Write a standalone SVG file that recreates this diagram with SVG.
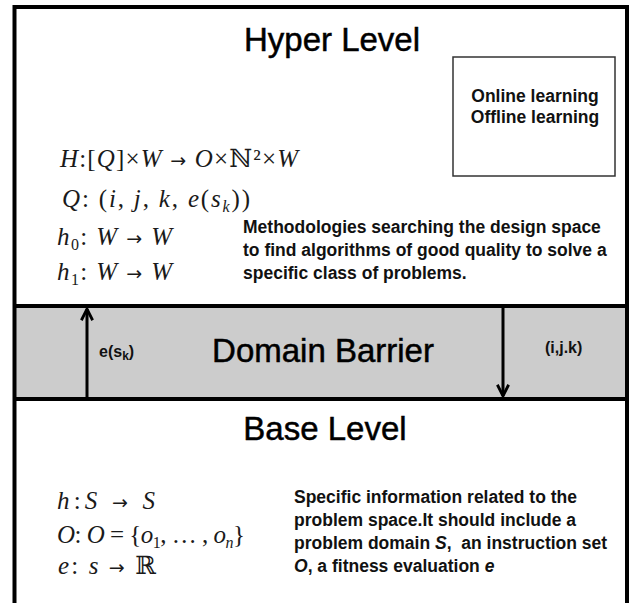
<svg xmlns="http://www.w3.org/2000/svg" width="638" height="603" viewBox="0 0 638 603">
<style>
.title{font-family:"Liberation Sans",Arial,sans-serif;font-size:33px;fill:#000;stroke:#000;stroke-width:0.5;text-anchor:middle}
.txt{font-family:"Liberation Sans",Arial,sans-serif;font-size:17.5px;font-weight:bold;fill:#111}
.lbl{font-family:"Liberation Sans",Arial,sans-serif;font-size:16px;font-weight:bold;fill:#111}
.math{font-family:"Liberation Serif","DejaVu Serif",serif;font-size:25px;fill:#1a1a1a}
.it{font-style:italic}
.sub{font-size:16px}
.ar{font-family:"DejaVu Sans",sans-serif;font-size:19px}
.frame{fill:none;stroke:#000;stroke-width:4}
.conn{fill:none;stroke:#000;stroke-width:3}
</style>
<defs>
<marker id="arr" viewBox="0 0 12 12" refX="11" refY="6" markerWidth="4.5" markerHeight="4.5" orient="auto" markerUnits="strokeWidth">
<path d="M1,1 L11,6 L1,11" fill="none" stroke="#000" stroke-width="2.5"/>
</marker>
</defs>
<rect x="0" y="0" width="638" height="603" fill="#fff"/>

<g id="domain-barrier">
<rect x="14.5" y="306" width="612.5" height="93" fill="#cccccc"/>
<text class="title" x="323" y="362">Domain Barrier</text>
</g>

<g id="hyper-level">
<text class="title" x="332" y="51">Hyper Level</text>
<text class="math" x="60" y="167" textLength="238" lengthAdjust="spacing"><tspan class="it">H</tspan>:[<tspan class="it">Q</tspan>]×<tspan class="it">W</tspan> <tspan class="ar">→</tspan> <tspan class="it">O</tspan>×ℕ²×<tspan class="it">W</tspan></text>
<text class="math" x="62" y="207" textLength="188" lengthAdjust="spacing"><tspan class="it">Q</tspan>: (<tspan class="it">i</tspan>, <tspan class="it">j</tspan>, <tspan class="it">k</tspan>, <tspan class="it">e</tspan>(<tspan class="it">s</tspan><tspan class="it sub" dy="5">k</tspan><tspan dy="-5">))</tspan></text>
<text class="math" x="57" y="245" textLength="115" lengthAdjust="spacing"><tspan class="it">h</tspan><tspan class="sub" dy="5">0</tspan><tspan dy="-5">: </tspan><tspan class="it">W</tspan> <tspan class="ar">→</tspan> <tspan class="it">W</tspan></text>
<text class="math" x="57" y="280" textLength="115" lengthAdjust="spacing"><tspan class="it">h</tspan><tspan class="sub" dy="5">1</tspan><tspan dy="-5">: </tspan><tspan class="it">W</tspan> <tspan class="ar">→</tspan> <tspan class="it">W</tspan></text>
<text class="txt" x="243" y="233">Methodologies searching the design space</text>
<text class="txt" x="243" y="256">to find algorithms of good quality to solve a</text>
<text class="txt" x="243" y="279">specific class of problems.</text>
</g>

<g id="learning-box">
<rect x="453" y="57" width="162" height="119" fill="#fff" stroke="#333" stroke-width="1.5"/>
<text class="txt" x="535" y="102" text-anchor="middle">Online learning</text>
<text class="txt" x="535" y="123" text-anchor="middle">Offline learning</text>
</g>

<g id="base-level">
<text class="title" x="325" y="440">Base Level</text>
<text class="math" x="57" y="509" textLength="98" lengthAdjust="spacing"><tspan class="it">h</tspan>:<tspan class="it">S</tspan>  <tspan class="ar">→</tspan> <tspan class="it">S</tspan></text>
<text class="math" x="57" y="543" textLength="188" lengthAdjust="spacing"><tspan class="it">O</tspan>: <tspan class="it">O</tspan> = {<tspan class="it">o</tspan><tspan class="sub" dy="5">1</tspan><tspan dy="-5">, … , </tspan><tspan class="it">o</tspan><tspan class="it sub" dy="5">n</tspan><tspan dy="-5">}</tspan></text>
<text class="math" x="58" y="574" textLength="98" lengthAdjust="spacing"><tspan class="it">e</tspan>: <tspan class="it">s</tspan> <tspan class="ar">→</tspan> ℝ</text>
<text class="txt" x="294" y="503">Specific information related to the</text>
<text class="txt" x="294" y="526">problem space.It should include a</text>
<text class="txt" x="294" y="549">problem domain <tspan font-style="italic">S</tspan>,&#160; an instruction set</text>
<text class="txt" x="294" y="572"><tspan font-style="italic">O</tspan>, a fitness evaluation <tspan font-style="italic">e</tspan></text>
</g>

<g id="frame">
<path class="frame" d="M14.5,603 V7 H627 V603"/>
<line class="frame" x1="14.5" y1="306" x2="627" y2="306"/>
<line class="frame" x1="14.5" y1="399" x2="627" y2="399"/>
</g>

<g id="connectors">
<line class="conn" x1="87" y1="397" x2="87" y2="309" marker-end="url(#arr)"/>
<text class="lbl" x="99" y="357">e(s<tspan font-size="12" dy="3">k</tspan><tspan dy="-3">)</tspan></text>
<line class="conn" x1="503" y1="308" x2="503" y2="396" marker-end="url(#arr)"/>
<text class="lbl" x="545" y="353">(i,j.k)</text>
</g>
</svg>
